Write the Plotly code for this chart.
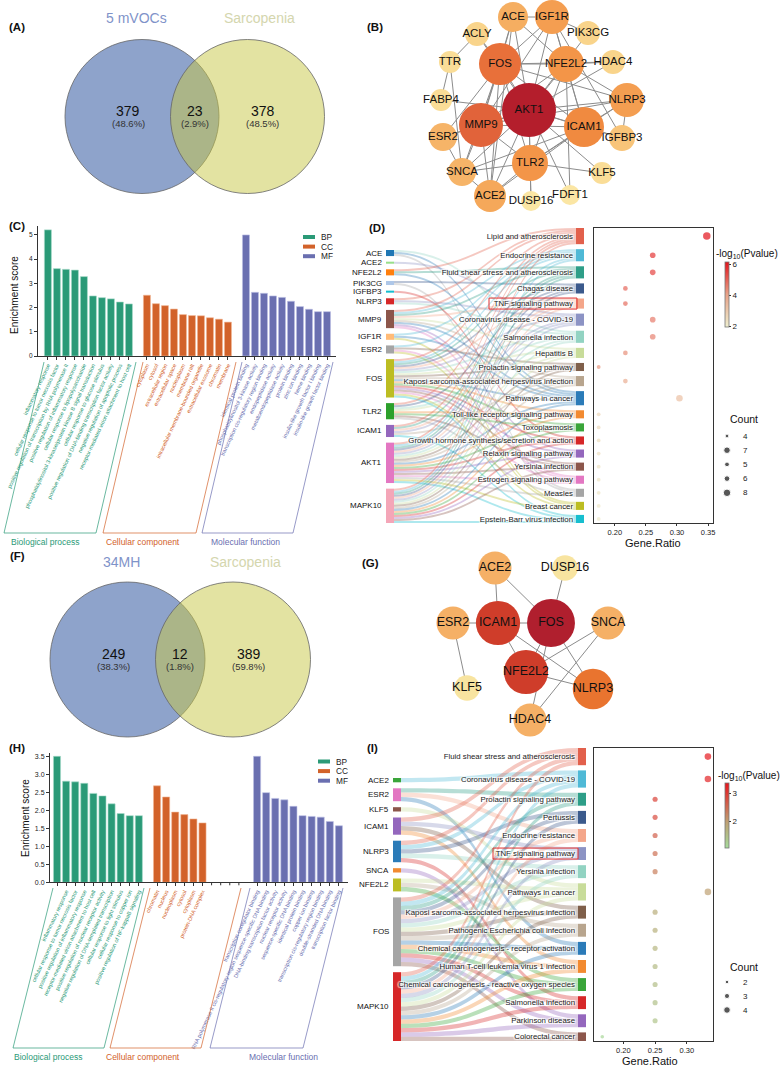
import plotly.graph_objects as go

W, H = 784, 1067
def fx(p): return p / W
def fy(p): return 1 - p / H
FONT = "Liberation Sans, Arial, sans-serif"

# ===================== DATA =====================
vennA_sets = ["5 mVOCs", "Sarcopenia"]
vennA_counts = [379, 23, 378]
vennF_sets = ["34MH", "Sarcopenia"]
vennF_counts = [249, 12, 389]

netB_genes = ["AKT1", "MMP9", "FOS", "ICAM1", "TLR2", "NFE2L2", "NLRP3", "IGF1R", "ACE2", "ACE",
              "ESR2", "SNCA", "IGFBP3", "HDAC4", "ACLY", "PIK3CG", "TTR", "FABP4", "KLF5", "DUSP16", "FDFT1"]
netB_degree = [19, 14, 13, 12, 10, 10, 9, 9, 8, 7, 6, 6, 5, 4, 4, 4, 3, 3, 3, 2, 2]
netB_edges = ["AKT1-ACE", "AKT1-IGF1R", "AKT1-FOS", "AKT1-NFE2L2", "AKT1-PIK3CG", "AKT1-HDAC4", "AKT1-NLRP3",
              "AKT1-ICAM1", "AKT1-IGFBP3", "AKT1-TLR2", "AKT1-MMP9", "AKT1-ESR2", "AKT1-SNCA", "AKT1-ACE2",
              "AKT1-KLF5", "AKT1-FABP4", "AKT1-ACLY", "AKT1-DUSP16", "AKT1-FDFT1",
              "FOS-ACE", "FOS-IGF1R", "FOS-NFE2L2", "FOS-MMP9", "FOS-ICAM1", "FOS-TLR2", "FOS-ESR2", "FOS-SNCA",
              "FOS-ACE2", "FOS-NLRP3", "FOS-HDAC4", "FOS-ACLY",
              "MMP9-IGF1R", "MMP9-ICAM1", "MMP9-TLR2", "MMP9-SNCA", "MMP9-ACE2", "MMP9-NFE2L2", "MMP9-ESR2",
              "MMP9-NLRP3", "MMP9-ACE",
              "ICAM1-NFE2L2", "ICAM1-TLR2", "ICAM1-NLRP3", "ICAM1-ACE2", "ICAM1-SNCA", "ICAM1-IGF1R", "ICAM1-IGFBP3",
              "TLR2-NLRP3", "TLR2-ACE2", "TLR2-SNCA", "TLR2-KLF5", "TLR2-NFE2L2", "TLR2-DUSP16",
              "NFE2L2-HDAC4", "NFE2L2-NLRP3", "NFE2L2-ACE", "NFE2L2-IGF1R", "NFE2L2-FDFT1",
              "NLRP3-IGFBP3", "IGF1R-ACE", "IGF1R-PIK3CG", "IGF1R-IGFBP3", "ACE-ACE2", "ACE2-SNCA",
              "ESR2-SNCA", "SNCA-TTR", "TTR-ACLY", "TTR-FABP4"]

netG_genes = ["FOS", "NFE2L2", "ICAM1", "NLRP3", "ACE2", "ESR2", "SNCA", "HDAC4", "KLF5", "DUSP16"]
netG_degree = [7, 6, 6, 5, 3, 3, 3, 3, 1, 1]
netG_edges = ["ACE2-ICAM1", "ACE2-FOS", "DUSP16-FOS", "ESR2-ICAM1", "ESR2-KLF5", "ICAM1-FOS", "ICAM1-NFE2L2",
              "ICAM1-NLRP3", "FOS-NFE2L2", "FOS-NLRP3", "FOS-HDAC4", "SNCA-NFE2L2", "SNCA-HDAC4", "NFE2L2-NLRP3"]

C_bp_terms = ["inflammatory response", "cellular response to tumor necrosis factor",
              "positive regulation of transcription by RNA polymerase II",
              "positive regulation of inflammatory response", "cellular response to lipopolysaccharide",
              "phosphatidylinositol 3-kinase/protein kinase B signal transduction",
              "cellular response to glucose stimulus",
              "positive regulation of DNA-binding transcription factor activity",
              "negative regulation of apoptotic process", "receptor-mediated virion attachment to host cell"]
C_bp_scores = [5.21, 3.61, 3.58, 3.55, 3.28, 2.48, 2.41, 2.36, 2.23, 2.15]
C_cc_terms = ["cytoplasm", "cytosol", "extracellular region", "extracellular space", "nucleoplasm",
              "membrane raft", "intracellular membrane-bounded organelle", "extracellular exosome",
              "chromatin", "membrane"]
C_cc_scores = [2.51, 2.16, 2.08, 1.94, 1.71, 1.67, 1.66, 1.58, 1.52, 1.40]
C_mf_terms = ["identical protein binding", "phosphatidylinositol 3-kinase activity",
              "transcription cis-regulatory region binding", "endopeptidase activity",
              "metalloendopeptidase activity", "protein binding", "zinc ion binding", "heme binding",
              "insulin-like growth factor I binding", "insulin-like growth factor binding"]
C_mf_scores = [5.0, 2.63, 2.59, 2.48, 2.42, 2.26, 2.04, 1.93, 1.83, 1.83]

H_bp_terms = ["positive regulation of transcription by RNA polymerase II", "inflammatory response",
              "cellular response to tumor necrosis factor", "positive regulation of inflammatory response",
              "receptor-mediated virion attachment to host cell", "positive regulation of nuclear receptor activity",
              "negative regulation of DNA-templated transcription", "cellular response to light stimulus",
              "cellular response to copper ion", "positive regulation of NF-kappaB signaling"]
H_bp_scores = [3.5, 2.81, 2.79, 2.75, 2.47, 2.40, 2.18, 1.91, 1.85, 1.85]
H_cc_terms = ["chromatin", "nucleus", "nucleoplasm", "cytosol", "cytoplasm", "protein-DNA complex"]
H_cc_scores = [2.68, 2.37, 1.95, 1.88, 1.76, 1.65]
H_mf_terms = ["transcription coregulator binding",
              "RNA polymerase II cis-regulatory region sequence-specific DNA binding",
              "DNA-binding transcription factor activity", "nuclear receptor activity",
              "sequence-specific DNA binding", "identical protein binding", "copper ion binding",
              "transcription cis-regulatory region binding", "double-stranded DNA binding",
              "transcription factor binding"]
H_mf_scores = [3.5, 2.49, 2.33, 2.29, 2.11, 1.85, 1.83, 1.81, 1.69, 1.57]

D_genes = ["ACE", "ACE2", "NFE2L2", "PIK3CG", "IGFBP3", "NLRP3", "MMP9", "IGF1R", "ESR2", "FOS",
           "TLR2", "ICAM1", "AKT1", "MAPK10"]
D_paths = ["Lipid and atherosclerosis", "Endocrine resistance", "Fluid shear stress and atherosclerosis",
           "Chagas disease", "TNF signaling pathway", "Coronavirus disease - COVID-19", "Salmonella infection",
           "Hepatitis B", "Prolactin signaling pathway", "Kaposi sarcoma-associated herpesvirus infection",
           "Pathways in cancer", "Toll-like receptor signaling pathway", "Toxoplasmosis",
           "Growth hormone synthesis/secretion and action", "Relaxin signaling pathway", "Yersinia infection",
           "Estrogen signaling pathway", "Measles", "Breast cancer", "Epstein-Barr virus infection"]
D_keys = ["Lipid", "Endocrine", "Fluid", "Chagas", "TNF", "COVID", "Salmonella", "HepB", "Prolactin",
          "Kaposi", "PiC", "Toll", "Toxo", "GH", "Relaxin", "Yersinia", "Estrogen", "Measles", "Breast", "EBV"]
D_ratio = [0.348, 0.261, 0.261, 0.217, 0.217, 0.261, 0.261, 0.217, 0.174, 0.217,
           0.304, 0.174, 0.174, 0.174, 0.174, 0.174, 0.174, 0.174, 0.174, 0.174]
D_count = [8, 6, 6, 5, 5, 6, 6, 5, 4, 5, 7, 4, 4, 4, 4, 4, 4, 4, 4, 4]
D_logp = [6.2, 5.6, 5.4, 4.9, 4.8, 4.6, 4.5, 4.3, 4.2, 3.7, 3.2, 2.6, 2.5, 2.4, 2.35, 2.3, 2.25, 2.2, 2.15, 2.1]
D_members = {
    "ACE": ["Salmonella", "PiC", "Measles"],
    "ACE2": ["COVID"],
    "NFE2L2": ["Lipid", "Fluid", "PiC"],
    "PIK3CG": ["Chagas", "Measles"],
    "IGFBP3": ["GH"],
    "NLRP3": ["Lipid", "COVID", "Salmonella"],
    "MMP9": ["Lipid", "Endocrine", "Fluid", "TNF", "HepB", "Kaposi", "PiC", "Relaxin", "Estrogen"],
    "IGF1R": ["Endocrine", "PiC", "Breast"],
    "ESR2": ["Endocrine", "Prolactin", "Estrogen", "Breast"],
    "FOS": ["Lipid", "Endocrine", "Fluid", "Chagas", "TNF", "COVID", "Salmonella", "HepB", "Prolactin", "Kaposi",
            "PiC", "Toll", "Toxo", "GH", "Relaxin", "Yersinia", "Estrogen", "Breast", "EBV"],
    "TLR2": ["Lipid", "Chagas", "Salmonella", "HepB", "Toll", "Toxo", "Yersinia", "Measles"],
    "ICAM1": ["Lipid", "Fluid", "TNF", "COVID", "Kaposi", "EBV"],
    "AKT1": ["Lipid", "Endocrine", "Fluid", "Chagas", "TNF", "COVID", "Salmonella", "HepB", "Prolactin", "Kaposi",
             "PiC", "Toll", "Toxo", "GH", "Relaxin", "Yersinia", "Estrogen", "Measles", "Breast", "EBV"],
    "MAPK10": ["Lipid", "Endocrine", "Fluid", "Chagas", "TNF", "COVID", "Salmonella", "HepB", "Prolactin",
               "Kaposi", "PiC", "Toll", "Toxo", "GH", "Relaxin", "Yersinia", "EBV"],
}

I_genes = ["ACE2", "ESR2", "KLF5", "ICAM1", "NLRP3", "SNCA", "NFE2L2", "FOS", "MAPK10"]
I_paths = ["Fluid shear stress and atherosclerosis", "Coronavirus disease - COVID-19",
           "Prolactin signaling pathway", "Pertussis", "Endocrine resistance", "TNF signaling pathway",
           "Yersinia infection", "Pathways in cancer", "Kaposi sarcoma-associated herpesvirus infection",
           "Pathogenic Escherichia coli infection", "Chemical carcinogenesis - receptor activation",
           "Human T-cell leukemia virus 1 infection", "Chemical carcinogenesis - reactive oxygen species",
           "Salmonella infection", "Parkinson disease", "Colorectal cancer"]
I_keys = ["Fluid", "COVID", "Prolactin", "Pertussis", "Endocrine", "TNF", "Yersinia", "PiC", "Kaposi",
          "Ecoli", "CCrec", "HTLV", "CCROS", "Salmonella", "Parkinson", "Colorectal"]
I_ratio = [0.333, 0.333, 0.25, 0.25, 0.25, 0.25, 0.25, 0.333, 0.25, 0.25, 0.25, 0.25, 0.25, 0.25, 0.25, 0.167]
I_count = [4, 4, 3, 3, 3, 3, 3, 4, 3, 3, 3, 3, 3, 3, 3, 2]
I_logp = [3.3, 3.2, 2.9, 2.8, 2.6, 2.45, 2.3, 1.95, 1.75, 1.7, 1.62, 1.56, 1.5, 1.45, 1.4, 1.12]
I_members = {
    "ACE2": ["COVID"],
    "ESR2": ["Prolactin", "Endocrine", "CCrec"],
    "KLF5": ["PiC"],
    "ICAM1": ["Fluid", "TNF", "Kaposi", "HTLV"],
    "NLRP3": ["Fluid", "COVID", "Pertussis", "Yersinia", "Salmonella"],
    "SNCA": ["Parkinson"],
    "NFE2L2": ["PiC", "Ecoli", "CCROS"],
    "FOS": I_keys[:],
    "MAPK10": I_keys[:],
}

# ===================== STYLE / LAYOUT CONSTANTS =====================
posB = {"AKT1": (529, 110), "MMP9": (481, 125), "FOS": (500, 64), "ICAM1": (584, 127), "TLR2": (530, 163),
        "NFE2L2": (566, 64), "NLRP3": (627, 100), "IGF1R": (552, 17), "ACE2": (490, 196), "ACE": (513, 17),
        "ESR2": (443, 137), "SNCA": (462, 172), "IGFBP3": (622, 138), "HDAC4": (613, 62), "ACLY": (477, 34),
        "PIK3CG": (588, 33), "TTR": (450, 62), "FABP4": (441, 100), "KLF5": (602, 173), "DUSP16": (531, 201),
        "FDFT1": (570, 195)}
posG = {"FOS": (551, 623), "NFE2L2": (526, 672), "ICAM1": (498, 623), "NLRP3": (593, 689), "ACE2": (495, 568),
        "ESR2": (453, 623), "SNCA": (608, 623), "HDAC4": (530, 720), "KLF5": (467, 688), "DUSP16": (565, 568)}

C_BP, C_CC, C_MF = "#2a9a77", "#d2622a", "#6a6fb0"
D_gene_colors = ["#1f77b4", "#98df8a", "#ff7f0e", "#aec7e8", "#17becf", "#d62728", "#8c564b", "#ffbb78",
                 "#a5a5a5", "#bcbd22", "#2ca02c", "#9467bd", "#e377c2", "#f4a6b8"]
D_path_colors = ["#e2604c", "#4fb9d6", "#2e9e88", "#3b5a8c", "#f4a68a", "#8c93c4", "#92d3c2", "#c8dc9a",
                 "#7f5f4a", "#b8a58e", "#2b7bb8", "#f28a30", "#3aa53a", "#d62728", "#9467bd", "#8c564b",
                 "#e377c2", "#a5a5a5", "#bcbd22", "#17becf"]
I_gene_colors = ["#3aa53a", "#e377c2", "#8c564b", "#9467bd", "#2b7bb8", "#f28a30", "#bcbd22", "#a5a5a5",
                 "#d62728"]
I_path_colors = ["#e2604c", "#4fb9d6", "#2e9e88", "#3b5a8c", "#f4a68a", "#8c93c4", "#92d3c2", "#c8dc9a",
                 "#7f5f4a", "#b8a58e", "#2b7bb8", "#f28a30", "#3aa53a", "#d62728", "#9467bd", "#8c564b"]
D_cscale = [[0, "#efefcf"], [0.5, "#e8a288"], [1, "#e3131b"]]
I_cscale = [[0, "#a6dc9c"], [0.4, "#bfa072"], [1, "#e8141c"]]
B_cscale = [[0, "#fbe6a4"], [0.12, "#f9d48a"], [0.235, "#f6b468"], [0.35, "#f5a85a"], [0.47, "#f39548"],
            [0.59, "#f08a40"], [0.647, "#e8703a"], [0.7, "#e2643a"], [1, "#b41e2c"]]
G_cscale = [[0, "#f8e4a0"], [0.333, "#f5b066"], [0.667, "#e9742f"], [0.833, "#cf3d2a"], [1, "#b01f2e"]]


def rgba(hexc, a):
    h = hexc.lstrip('#')
    return "rgba(%d,%d,%d,%s)" % (int(h[0:2], 16), int(h[2:4], 16), int(h[4:6], 16), a)


fig = go.Figure()
ann = []
shapes = []

def text(x, y, s, size=10, color="#111", anchor="center", bold=False, angle=0, yanchor="middle"):
    ann.append(dict(x=x, y=y, xref="x", yref="y", text=("<b>%s</b>" % s) if bold else s, showarrow=False,
                    xanchor=anchor, yanchor=yanchor, textangle=angle,
                    font=dict(size=size, color=color, family=FONT)))

# ---------- Venn diagrams ----------
def venn(cx1, cx2, cy, r, counts, sets, title_y):
    shapes.append(dict(type="circle", xref="x", yref="y", x0=cx1 - r, x1=cx1 + r, y0=cy - r, y1=cy + r,
                       fillcolor="#8ea3cb", line=dict(color="#666", width=0.8), layer="below"))
    shapes.append(dict(type="circle", xref="x", yref="y", x0=cx2 - r, x1=cx2 + r, y0=cy - r, y1=cy + r,
                       fillcolor="rgba(200,200,70,0.5)", line=dict(color="#666", width=0.8), layer="below"))
    tot = sum(counts)
    xs = [cx1 - r * 0.18, (cx1 + cx2) / 2, cx2 + r * 0.2]
    for xv, c in zip(xs, counts):
        text(xv, cy - 6, str(c), size=14, color="#111")
        text(xv, cy + 7, "(%.1f%%)" % (100.0 * c / tot), size=9.5, color="#333")
    text(cx1 - 6, title_y, sets[0], size=14, color="#7f93c9")
    text(cx2 + 12, title_y, sets[1], size=14, color="#d4d6ae")

venn(142, 247.5, 116.5, 77, vennA_counts, vennA_sets, 18)
venn(127.5, 233, 659.5, 77.5, vennF_counts, vennF_sets, 562)

# ---------- networks ----------
def network(genes, degree, edges, pos, cscale, smin, sstep, fsize):
    ex, ey = [], []
    for e in edges:
        a, b = e.split("-")
        ex += [pos[a][0], pos[b][0], None]
        ey += [pos[a][1], pos[b][1], None]
    fig.add_trace(go.Scatter(x=ex, y=ey, mode="lines", line=dict(color="#8c8c8c", width=1),
                             hoverinfo="skip", xaxis="x", yaxis="y"))
    order = sorted(range(len(genes)), key=lambda i: degree[i])
    fig.add_trace(go.Scatter(
        x=[pos[genes[i]][0] for i in order], y=[pos[genes[i]][1] for i in order],
        mode="markers+text", text=[genes[i] for i in order], textposition="middle center",
        textfont=dict(size=fsize, color="#111", family=FONT),
        marker=dict(size=[smin + sstep * degree[i] for i in order], color=[degree[i] for i in order],
                    colorscale=cscale, cmin=min(degree), cmax=max(degree), line=dict(width=0), opacity=1),
        xaxis="x", yaxis="y", hoverinfo="text"))

network(netB_genes, netB_degree, netB_edges, posB, B_cscale, 16, 2, 11.5)
network(netG_genes, netG_degree, netG_edges, posG, G_cscale, 22, 3.7, 12.5)

# ---------- GO bar charts ----------
def go_bars(xa, ya, bp, cc, mf, bp_t, cc_t, mf_t, n_slots_cc, axis_y_px):
    bp_x = list(range(len(bp)))
    cc_x = [11 + i for i in range(len(cc))]
    mf_x = [22 + i for i in range(len(mf))]
    for xs, ys, col, edge in [(bp_x, bp, C_BP, "#a9dccb"), (cc_x, cc, C_CC, "#f2b795"), (mf_x, mf, C_MF, "#bcc0e4")]:
        fig.add_trace(go.Bar(x=xs, y=ys, width=0.78, marker=dict(color=col, line=dict(color=edge, width=0.6)),
                             xaxis=xa, yaxis=ya, hoverinfo="y"))
    tv, tt = [], []
    for xs, terms, col in [(bp_x, bp_t, C_BP), (cc_x, cc_t, C_CC), (mf_x, mf_t, C_MF)]:
        for xv, t in zip(xs, terms):
            tv.append(xv)
            tt.append("<span style='color:%s'>%s</span>" % (col, t))
    # tick marks (no label) for the unused cellular-component slots
    for k in range(len(cc), n_slots_cc):
        shapes.append(dict(type="line", xref=xa, yref="y", x0=11 + k, x1=11 + k,
                           y0=axis_y_px, y1=axis_y_px + 3, line=dict(color="#333", width=1)))
    return tv, tt

tvC, ttC = go_bars("x2", "y2", C_bp_scores, C_cc_scores, C_mf_scores, C_bp_terms, C_cc_terms, C_mf_terms, 10, 356)
tvH, ttH = go_bars("x3", "y3", H_bp_scores, H_cc_scores, H_mf_scores, H_bp_terms, H_cc_terms, H_mf_terms, 10, 882.3)

axis_common = dict(showgrid=False, zeroline=False, showline=True, linecolor="#333", linewidth=1,
                   ticks="outside", tickcolor="#333", ticklen=3, tickwidth=1, automargin=False)

# ---------- Sankey ----------
def col_centers(counts, top, ky, pad):
    out, y = [], top
    for c in counts:
        out.append(y + c * ky / 2)
        y += c * ky + pad
    return out

def sankey(genes, keys, names, members, gcols, pcols, y_top, y_bot, x_left, x_right, gcx, pcx, pad, g_top):
    ng = len(genes)
    src, tgt, val, lc = [], [], [], []
    for gi, g in enumerate(genes):
        for k in members[g]:
            pi = keys.index(k)
            src.append(gi); tgt.append(ng + pi); val.append(1); lc.append(rgba(pcols[pi], 0.35))
    g_cnt = [len(members[g]) for g in genes]
    p_cnt = [tgt.count(ng + i) for i in range(len(keys))]
    hgt = y_bot - y_top
    tot = sum(p_cnt)
    ky = (hgt - (len(keys) - 1) * pad) / tot
    p_c = col_centers(p_cnt, y_top, ky, pad)
    gpad = (y_bot - g_top - tot * ky) / (ng - 1)
    g_c = col_centers(g_cnt, g_top, ky, gpad)
    w = x_right - x_left
    fig.add_trace(go.Sankey(
        domain=dict(x=[fx(x_left), fx(x_right)], y=[fy(y_bot), fy(y_top)]),
        arrangement="fixed",
        node=dict(label=[""] * ng + names, color=gcols + pcols, pad=pad, thickness=8,
                  line=dict(width=0),
                  x=[(gcx - x_left) / w] * ng + [(pcx - x_left) / w] * len(keys),
                  y=[(c - y_top) / hgt for c in g_c + p_c]),
        link=dict(source=src, target=tgt, value=val, color=lc),
        textfont=dict(size=7.8, color="#222", family=FONT)))
    for g, c in zip(genes, g_c):
        text(gcx - 6, c, g, size=8, anchor="right")
    return g_c, p_c

gD, pD = sankey(D_genes, D_keys, D_paths, D_members, D_gene_colors, D_path_colors,
                228, 523, 380, 590, 390, 580, 5, 250)
gI, pI = sankey(I_genes, I_keys, I_paths, I_members, I_gene_colors, I_path_colors,
                748, 1041, 386, 594, 397, 582, 5.2, 778)

# red boxes around TNF label
for ytnf, xl, xr in [(pD[D_keys.index("TNF")], 489, 577), (pI[I_keys.index("TNF")], 493, 578)]:
    shapes.append(dict(type="rect", xref="x", yref="y", x0=xl, x1=xr, y0=ytnf - 5.5, y1=ytnf + 5.5,
                       line=dict(color="#e03030", width=1)))

# ---------- dot plots ----------
def dotplot(xa, ya, ratio, count, logp, centers, cscale, cmin, cmax, smin, smax, cb_top, cb_len):
    cnt_lo, cnt_hi = min(count), max(count)
    sizes = [smin + (c - cnt_lo) / (cnt_hi - cnt_lo) * (smax - smin) for c in count]
    fig.add_trace(go.Scatter(
        x=ratio, y=centers, mode="markers", xaxis=xa, yaxis=ya,
        marker=dict(size=sizes, color=logp, colorscale=cscale, cmin=cmin, cmax=cmax, line=dict(width=0),
                    showscale=True,
                    colorbar=dict(x=fx(725), xanchor="left", y=fy(cb_top), yanchor="top", lenmode="pixels",
                                  len=cb_len, thickness=4, xpad=0, ypad=0, outlinewidth=0.8,
                                  outlinecolor="#777", ticks="outside", ticklen=2, tickcolor="#333",
                                  tickfont=dict(size=8, family=FONT, color="#222"), dtick=1 if cmax < 4 else 2))))
    return sizes

sD = dotplot("x4", "y4", D_ratio, D_count, D_logp, pD, D_cscale, 1.94, 6.13, 3.8, 7.5, 262, 65)
sI = dotplot("x5", "y5", I_ratio, I_count, I_logp, pI, I_cscale, 1.04, 3.36, 3.6, 6.6, 783, 65)

# count legends
def count_legend(count, sizes, order, y0, step, title_y):
    lut = dict(zip(count, sizes))
    ys = [y0 + k * step for k in range(len(order))]
    fig.add_trace(go.Scatter(x=[727] * len(order), y=ys, mode="markers", xaxis="x", yaxis="y",
                             marker=dict(size=[lut[c] for c in order], color="#111"), hoverinfo="skip"))
    for c, yv in zip(order, ys):
        text(741, yv, str(c), size=8, anchor="left", color="#222")
    text(744, title_y, "Count", size=10.5, color="#111")

count_legend(D_count, sD, [4, 7, 5, 6, 8], 436, 14.2, 419)
count_legend(I_count, sI, [2, 3, 4], 982, 14, 967)
text(714, 254, "-log<sub>10</sub>(Pvalue)", size=10, anchor="left")
text(716, 776, "-log<sub>10</sub>(Pvalue)", size=10, anchor="left")
text(653, 543, "Gene.Ratio", size=11)
text(650, 1061, "Gene.Ratio", size=11)

# ---------- GO legends, brackets, labels ----------
for (lx, ly0, step) in [(303, 237, 9.6), (318, 761.5, 9.6)]:
    for k, (lab, col) in enumerate([("BP", C_BP), ("CC", C_CC), ("MF", C_MF)]):
        yv = ly0 + k * step
        shapes.append(dict(type="rect", xref="x", yref="y", x0=lx, x1=lx + 12, y0=yv - 2, y1=yv + 2,
                           fillcolor=col, line=dict(width=0)))
        text(lx + 16, yv, lab, size=8.3, anchor="left", color="#222")

text(14, 295, "Enrichment score", size=10, angle=-90)
text(25, 818, "Enrichment score", size=10, angle=-90)

def bracket(x_top0, x_top1, y_top, y_bot, shift, col):
    pts = [(x_top0, y_top), (x_top0 - shift, y_bot), (x_top1 - shift, y_bot), (x_top1, y_top)]
    path = "M %f %f L %f %f L %f %f L %f %f" % (pts[0] + pts[1] + pts[2] + pts[3])
    shapes.append(dict(type="path", xref="x", yref="y", path=path, line=dict(color=col, width=0.7)))

bracket(44, 136, 362, 533, 40, C_BP)
bracket(143, 236, 362, 533, 40, C_CC)
bracket(242, 333, 362, 533, 40, C_MF)
bracket(53, 144, 888, 1048, 40, C_BP)
bracket(150, 241, 888, 1048, 40, C_CC)
bracket(250, 343, 888, 1048, 40, C_MF)
for (xv, yv, s, col) in [(45, 542, "Biological process", C_BP), (143, 542, "Cellular component", C_CC),
                         (245, 542, "Molecular function", C_MF), (48, 1057, "Biological process", C_BP),
                         (143, 1057, "Cellular component", C_CC), (283, 1057, "Molecular function", C_MF)]:
    text(xv, yv, s, size=8.5, color=col)

for (xv, yv, s) in [(17, 27, "(A)"), (375, 27, "(B)"), (17, 226, "(C)"), (377, 228, "(D)"),
                    (17, 556, "(F)"), (370, 563, "(G)"), (17, 748, "(H)"), (372, 748, "(I)")]:
    text(xv, yv, s, size=11.5, bold=True)

fig.update_layout(
    width=W, height=H, margin=dict(l=0, r=0, t=0, b=0, autoexpand=False), autosize=False,
    paper_bgcolor="white", plot_bgcolor="rgba(0,0,0,0)", showlegend=False, barmode="overlay",
    font=dict(family=FONT),
    annotations=ann, shapes=shapes,
    xaxis=dict(domain=[0, 1], range=[0, W], visible=False, fixedrange=True, automargin=False),
    yaxis=dict(domain=[0, 1], range=[H, 0], visible=False, fixedrange=True, automargin=False),
    xaxis2=dict(domain=[fx(38), fx(336)], range=[-1.1, 32], anchor="y2", tickvals=tvC, ticktext=ttC,
                tickangle=-65, tickfont=dict(size=5.5, family=FONT), **axis_common),
    yaxis2=dict(domain=[fy(356), fy(226)], range=[0, 5.37], anchor="x2", tickvals=[0, 1, 2, 3, 4, 5],
                tickfont=dict(size=6.5, family=FONT, color="#222"), **axis_common),
    xaxis3=dict(domain=[fx(50), fx(348)], range=[-0.77, 32], anchor="y3", tickvals=tvH, ticktext=ttH,
                tickangle=-65, tickfont=dict(size=5.5, family=FONT), **axis_common),
    yaxis3=dict(domain=[fy(882.3), fy(752.7)], range=[0, 3.6], anchor="x3",
                tickvals=[0, 0.5, 1, 1.5, 2, 2.5, 3, 3.5], tickformat=".1f",
                tickfont=dict(size=7, family=FONT, color="#222"), **axis_common),
    xaxis4=dict(domain=[fx(594), fx(713)], range=[0.1665, 0.358], anchor="y4", tickvals=[0.2, 0.25, 0.3, 0.35],
                tickformat=".2f", tickfont=dict(size=7.5, family=FONT, color="#222"), mirror=True,
                **{k: v for k, v in axis_common.items() if k != "ticklen"}, ticklen=2),
    yaxis4=dict(domain=[fy(523), fy(228)], range=[523, 228], anchor="x4", showticklabels=False,
                showgrid=False, zeroline=False, showline=True, mirror=True, linecolor="#333", linewidth=1,
                automargin=False),
    xaxis5=dict(domain=[fx(594), fx(713)], range=[0.154, 0.341], anchor="y5", tickvals=[0.2, 0.25, 0.3],
                tickformat=".2f", tickfont=dict(size=7.5, family=FONT, color="#222"), mirror=True,
                **{k: v for k, v in axis_common.items() if k != "ticklen"}, ticklen=2),
    yaxis5=dict(domain=[fy(1041), fy(748)], range=[1041, 748], anchor="x5", showticklabels=False,
                showgrid=False, zeroline=False, showline=True, mirror=True, linecolor="#333", linewidth=1,
                automargin=False),
)

fig.write_html("out.html")
